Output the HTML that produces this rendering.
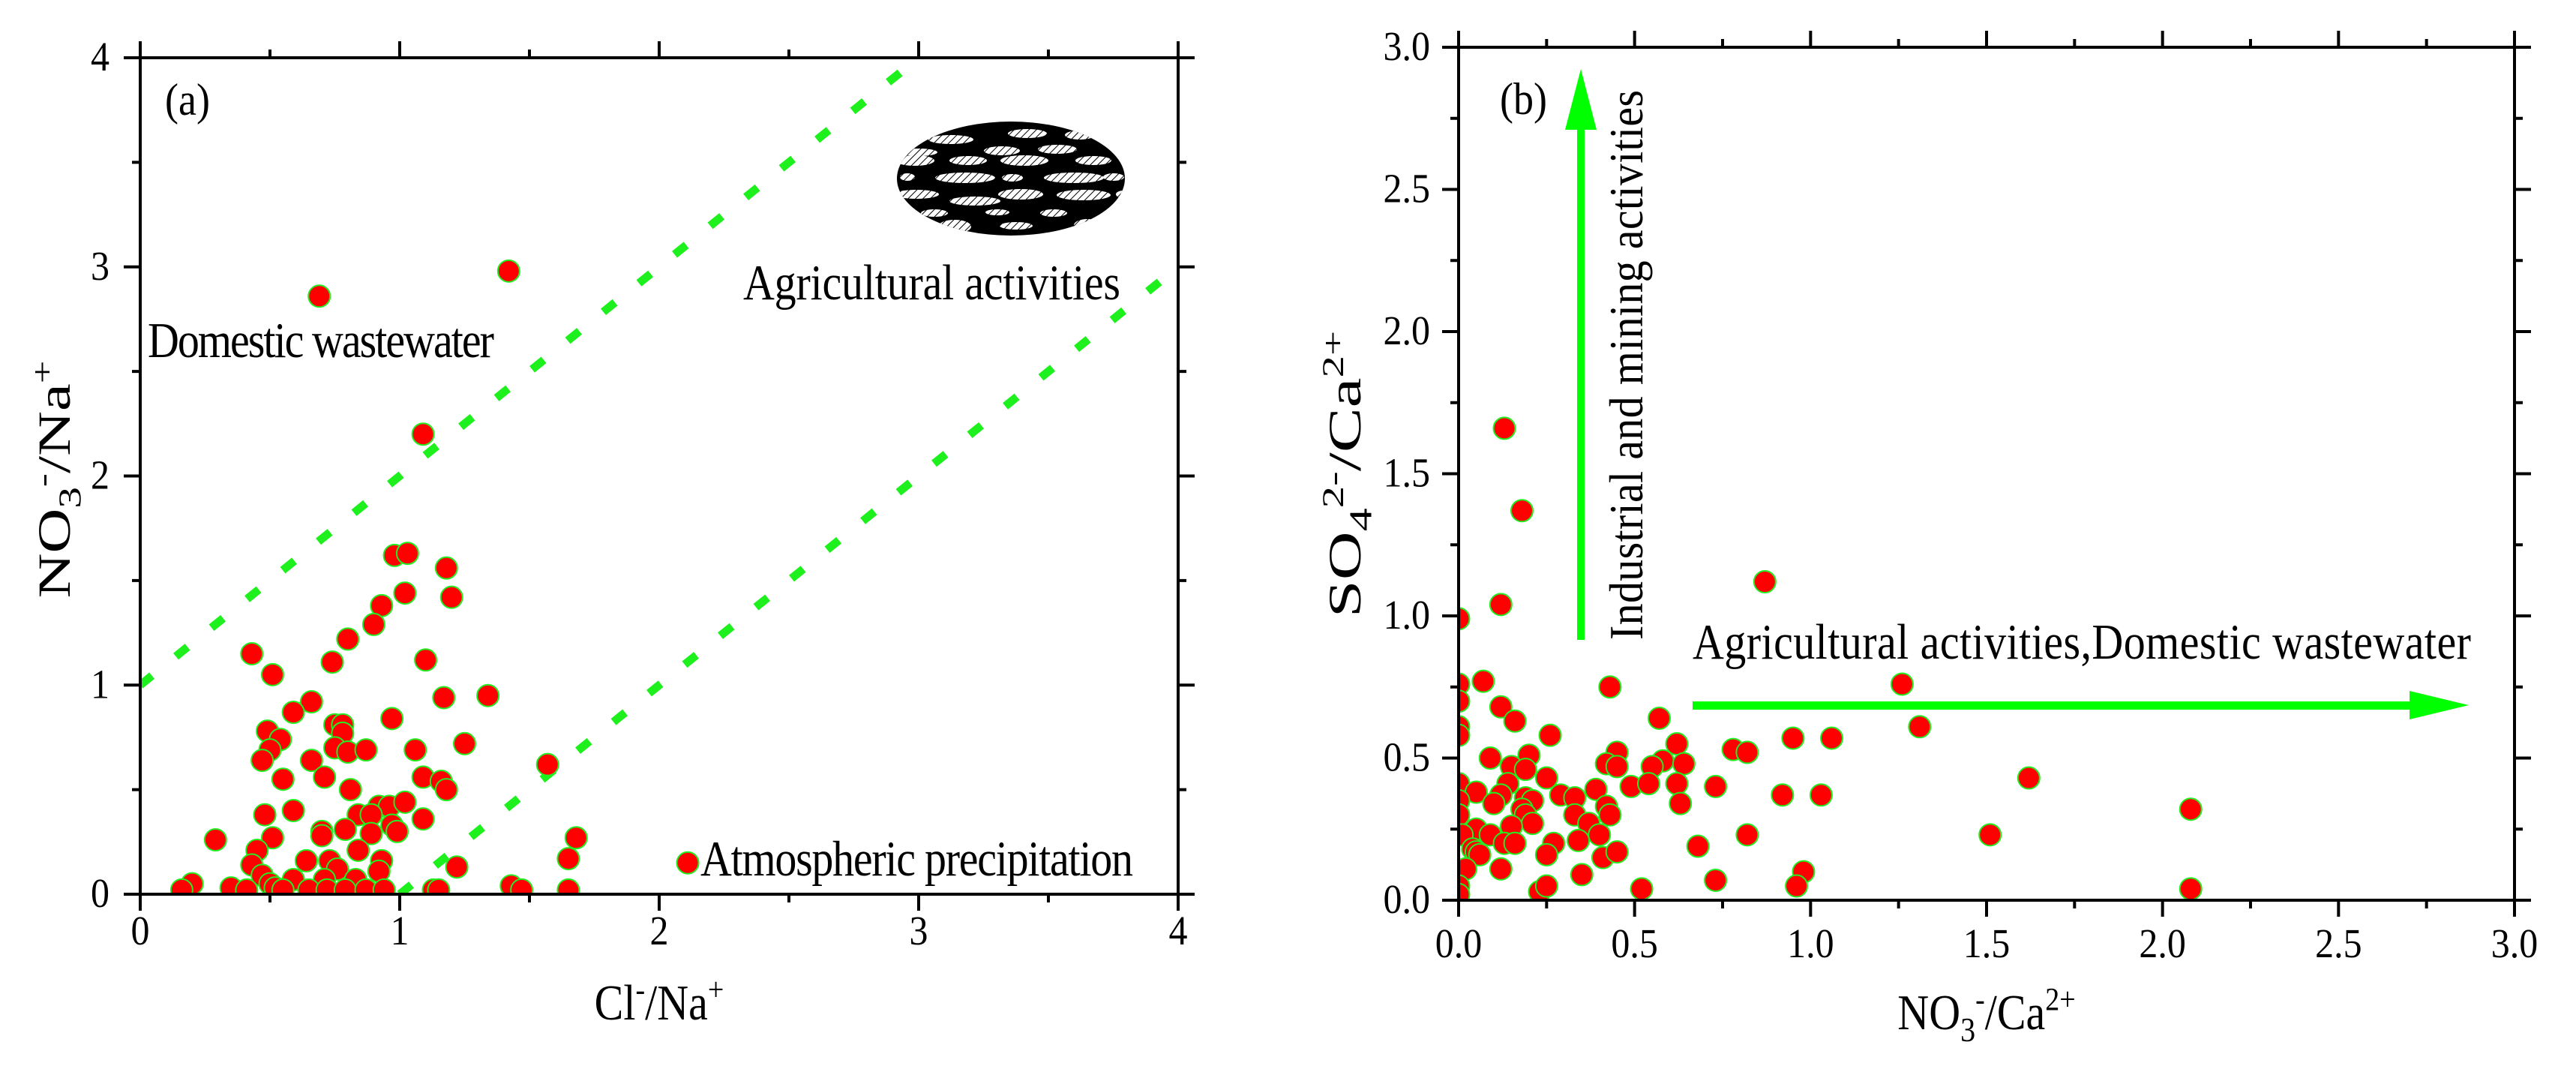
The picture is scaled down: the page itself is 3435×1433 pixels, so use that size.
<!DOCTYPE html>
<html><head><meta charset="utf-8"><style>
html,body{margin:0;padding:0;background:#fff;}
svg{display:block;font-family:"Liberation Serif",serif;}
</style></head><body>
<svg id="fig" width="3435" height="1433" viewBox="0 0 3435 1433" xmlns="http://www.w3.org/2000/svg">
<defs>
<pattern id="hatch" width="7" height="7" patternUnits="userSpaceOnUse" patternTransform="rotate(45)">
<rect width="7" height="7" fill="#fff"/><line x1="0" y1="0" x2="0" y2="7" stroke="#000" stroke-width="2"/></pattern>
<clipPath id="clipA"><rect x="187" y="77" width="1384" height="1115"/></clipPath>
<clipPath id="clipB"><rect x="1945" y="63" width="1408" height="1137"/></clipPath>
<clipPath id="clipE"><ellipse cx="1348" cy="238" rx="152" ry="76"/></clipPath>
</defs>
<g id="panelA"></g>
<g id="panelB"></g>
</svg>
<script>
// Panel (a) data: Cl-/Na+ vs NO3-/Na+
const aX=[0.69,1.42,1.09,0.98,1.03,1.18,1.02,1.20,0.93,0.90,0.80,0.43,0.74,1.10,0.51,1.17,1.34,0.66,0.59,0.97,0.75,0.78,0.78,0.49,0.54,1.25,0.75,0.80,0.87,0.50,1.06,0.47,0.66,1.57,1.09,1.16,1.18,0.55,0.71,0.81,0.59,0.48,0.92,0.96,1.02,0.84,0.89,1.09,0.97,0.70,0.79,0.99,0.89,0.70,0.29,0.51,1.68,0.84,0.45,1.65,0.93,0.64,0.73,1.22,0.43,0.92,0.47,0.76,2.11,0.20,0.16,0.35,0.41,0.50,0.52,0.59,0.71,0.83,0.55,0.65,0.72,0.79,0.87,0.94,1.13,1.15,1.43,1.47,1.65];
const aY=[2.86,2.98,2.20,1.62,1.63,1.56,1.44,1.42,1.38,1.29,1.22,1.15,1.11,1.12,1.05,0.94,0.95,0.92,0.87,0.84,0.81,0.81,0.77,0.78,0.74,0.72,0.70,0.68,0.69,0.69,0.69,0.64,0.64,0.62,0.56,0.54,0.50,0.55,0.56,0.50,0.40,0.38,0.42,0.42,0.44,0.38,0.38,0.36,0.33,0.30,0.31,0.30,0.29,0.28,0.26,0.27,0.27,0.21,0.21,0.17,0.16,0.16,0.16,0.13,0.14,0.11,0.09,0.12,0.15,0.05,0.02,0.03,0.02,0.05,0.03,0.07,0.07,0.07,0.02,0.02,0.02,0.02,0.02,0.02,0.02,0.02,0.04,0.02,0.02];
const aTicks=["0","1","2","3","4"];
const aLineIntercepts=[1,-1];
// Panel (b) data: NO3-/Ca2+ vs SO4 2-/Ca2+
const bX=[0.13,0.18,0.87,0.12,0.00,0.07,0.00,1.26,0.43,0.00,0.12,0.16,0.57,0.00,0.00,0.26,1.31,0.95,1.06,0.78,0.82,0.62,0.45,0.09,0.20,0.42,0.45,0.58,0.55,0.64,0.15,0.19,0.49,0.54,0.62,0.73,1.62,0.25,0.14,0.00,0.05,0.39,0.12,0.29,0.92,1.03,0.33,0.19,0.21,0.00,0.10,0.18,0.42,0.63,2.08,0.33,0.43,0.19,0.00,0.37,0.21,0.27,0.15,0.05,0.01,0.09,0.40,0.82,1.51,0.34,0.13,0.16,0.04,0.05,0.06,0.25,0.41,0.45,0.68,0.12,0.02,0.98,0.35,0.73,0.00,0.00,0.23,0.25,0.52,0.96,2.08];
const bY=[1.66,1.37,1.12,1.04,0.99,0.77,0.76,0.76,0.75,0.70,0.68,0.63,0.64,0.61,0.58,0.58,0.61,0.57,0.57,0.53,0.52,0.55,0.52,0.50,0.51,0.48,0.47,0.49,0.47,0.48,0.47,0.46,0.40,0.41,0.41,0.40,0.43,0.43,0.41,0.41,0.38,0.39,0.37,0.37,0.37,0.37,0.36,0.36,0.35,0.35,0.34,0.32,0.33,0.34,0.32,0.30,0.30,0.30,0.30,0.27,0.27,0.20,0.26,0.25,0.23,0.23,0.23,0.23,0.23,0.21,0.20,0.20,0.18,0.17,0.16,0.16,0.15,0.17,0.19,0.11,0.11,0.10,0.09,0.07,0.05,0.02,0.03,0.05,0.04,0.05,0.04];
const bTicks=["0.0","0.5","1.0","1.5","2.0","2.5","3.0"];

const NS="http://www.w3.org/2000/svg";
function mk(tag,attrs,parent){const e=document.createElementNS(NS,tag);for(const k in attrs)e.setAttribute(k,attrs[k]);parent.appendChild(e);return e;}

// ---------- Panel A ----------
const A=document.getElementById('panelA');
const ax0=187,ax1=1571,ay0=1192,ay1=77;
const xA=v=>ax0+(v/4)*(ax1-ax0);
const yA=v=>ay0-(v/4)*(ay0-ay1);

const ic=mk('g',{},A);


mk('ellipse',{cx:1348,cy:238,rx:152,ry:76,fill:'#000'},ic);
const blobs=[[1268,186,30,6],[1370,178,26,6],[1440,180,20,6],[1226,203,24,5],[1336,201,24,6],[1410,199,26,6],[1220,214,26,7],[1291,214,25,6],[1366,214,32,7],[1458,214,24,6],[1287,237,40,7],[1350,237,14,5],[1432,237,40,7],[1485,236,14,5],[1210,236,10,5],[1222,259,30,6],[1361,259,30,7],[1445,260,36,7],[1300,268,34,6],[1498,259,10,5],[1246,284,18,5],[1330,283,16,4],[1405,284,18,5],[1273,302,22,9],[1355,301,22,5],[1450,300,18,8]];
blobs.forEach(b=>{mk('ellipse',{cx:b[0],cy:b[1],rx:b[2],ry:b[3],fill:'url(#hatch)','clip-path':'url(#clipE)'},ic);});

aLineIntercepts.forEach((c,i)=>{
  const x1=Math.max(0,-c), x2=Math.min(4,4-c);
  const l=mk('line',{x1:xA(x1),y1:yA(x1+c),x2:xA(x2),y2:yA(x2+c),stroke:'#1ef01e','stroke-width':11,'stroke-dasharray':'20 41','clip-path':'url(#clipA)'},A);
  
  
});

const pa=mk('g',{'clip-path':'url(#clipA)'},A);


aX.forEach((v,i)=>{
  const c=mk('circle',{cx:xA(v),cy:yA(aY[i]),r:14.5,fill:'#ff0000',stroke:'#22ee22','stroke-width':2},pa);
  
  
});

function axes(g,x0,x1,y0,y1,nMaj,labels,xLabY,yLabX){
  const W=4;
  mk('rect',{x:x0,y:y1,width:x1-x0,height:y0-y1,fill:'none',stroke:'#000','stroke-width':W},g);
  const nMin=nMaj*2;
  for(let i=0;i<=nMin;i++){
    const maj=i%2===0, L=maj?22:11;
    const x=x0+(x1-x0)*i/nMin, y=y0-(y0-y1)*i/nMin;
    mk('line',{x1:x,y1:y0,x2:x,y2:y0+L,stroke:'#000','stroke-width':W},g);
    mk('line',{x1:x,y1:y1,x2:x,y2:y1-L,stroke:'#000','stroke-width':W},g);
    mk('line',{x1:x0,y1:y,x2:x0-L,y2:y,stroke:'#000','stroke-width':W},g);
    mk('line',{x1:x1,y1:y,x2:x1+L,y2:y,stroke:'#000','stroke-width':W},g);
    if(maj){
      const t=mk('text',{transform:`translate(${x},${xLabY}) scale(1,1.1)`,'font-size':50,'text-anchor':'middle'},g);t.textContent=labels[i/2];
      
      
      const u=mk('text',{transform:`translate(${yLabX},${y+17}) scale(1,1.1)`,'font-size':50,'text-anchor':'end'},g);u.textContent=labels[i/2];
      
      
    }
  }
}
const axA=mk('g',{},A);


axes(axA,ax0,ax1,ay0,ay1,4,aTicks,1259,146);
</script>
<script>
(function(){
const A=document.getElementById('panelA');
A.insertAdjacentHTML('beforeend',
'<text transform="translate(220,153) scale(1,1.12)" font-size="54">(a)</text>'+
'<text transform="translate(197,476) scale(1,1.15)" font-size="58" textLength="462">Domestic wastewater</text>'+
'<text transform="translate(991,399) scale(1,1.15)" font-size="58" textLength="503">Agricultural activities</text>'+
'<text transform="translate(934,1167) scale(1,1.15)" font-size="58" textLength="577">Atmospheric precipitation</text>'+
'<text transform="translate(879,1359) scale(1,1.15)" font-size="58" text-anchor="middle">Cl<tspan dy="-22" font-size="38">-</tspan><tspan dy="22">/Na</tspan><tspan dy="-22" font-size="38">+</tspan></text>'+
'<text transform="translate(93,639) rotate(-90) scale(1.43,1.05)" font-size="58" text-anchor="middle">NO<tspan dy="14" font-size="40">3</tspan><tspan dy="-36" font-size="38">-</tspan><tspan dy="22">/Na</tspan><tspan dy="-22" font-size="38">+</tspan></text>');
})();
</script>
<script>
(function(){
const B=document.getElementById('panelB');
const bx0=1945,bx1=3353,by0=1200,by1=63;
const xB=v=>bx0+(v/3)*(bx1-bx0);
const yB=v=>by0-(v/3)*(by0-by1);
const pb=mk('g',{'clip-path':'url(#clipB)'},B);


bX.forEach((v,i)=>{
  const c=mk('circle',{cx:xB(v),cy:yB(bY[i]),r:14.5,fill:'#ff0000',stroke:'#22ee22','stroke-width':2},pb);
  
  
});
const axB=mk('g',{},B);


axes(axB,bx0,bx1,by0,by1,6,bTicks,1276,1907);
B.insertAdjacentHTML('beforeend',
'<text transform="translate(2000,152) scale(1,1.12)" font-size="54">(b)</text>'+
'<g><rect x="2103" y="170" width="10" height="683" fill="#00ff00"/><polygon points="2108,92 2129,173 2087,173" fill="#00ff00"/></g>'+
'<g><rect x="2257" y="935" width="958" height="11" fill="#00ff00"/><polygon points="3292,940 3213,921 3213,959" fill="#00ff00"/></g>'+
'<text transform="translate(2190,853) rotate(-90) scale(1,1.1)" font-size="58" textLength="733">Industrial and mining activities</text>'+
'<text transform="translate(2257,878) scale(1,1.15)" font-size="58" textLength="1038">Agricultural activities,Domestic wastewater</text>'+
'<text transform="translate(2649,1372) scale(1,1.15)" font-size="58" text-anchor="middle">NO<tspan dy="14" font-size="40">3</tspan><tspan dy="-36" font-size="38">-</tspan><tspan dy="22">/Ca</tspan><tspan dy="-22" font-size="38">2+</tspan></text>'+
'<text transform="translate(1814,632) rotate(-90) scale(1.55,1.05)" font-size="58" text-anchor="middle">SO<tspan dy="14" font-size="40">4</tspan><tspan dy="-36" font-size="38">2-</tspan><tspan dy="22">/Ca</tspan><tspan dy="-22" font-size="38">2+</tspan></text>');
})();
</script>
</body></html>
